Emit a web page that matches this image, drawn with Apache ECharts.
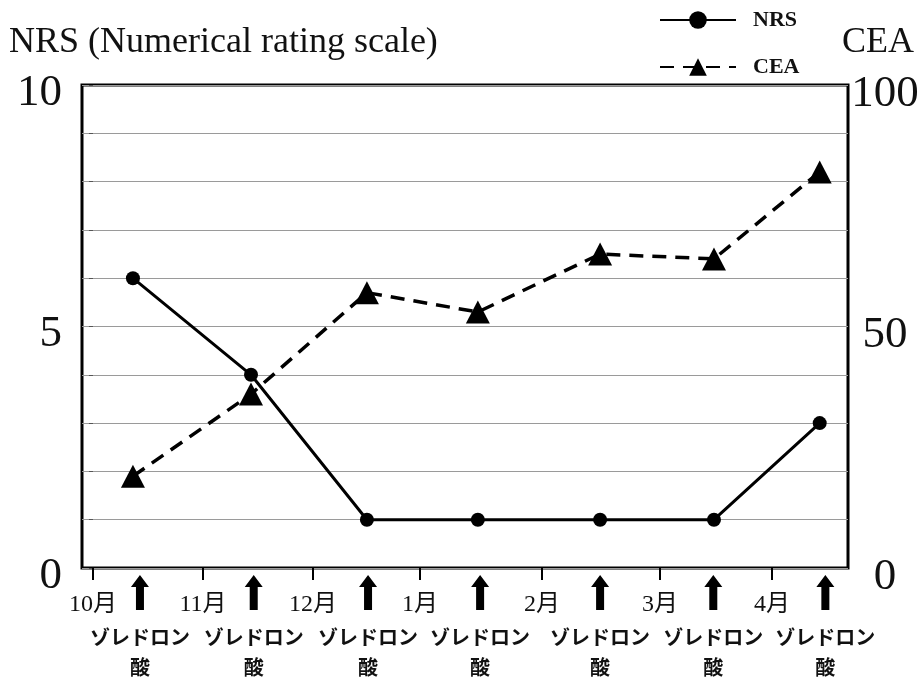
<!DOCTYPE html>
<html>
<head>
<meta charset="utf-8">
<script src="https://cdn.jsdelivr.net/npm/echarts@6/dist/echarts.min.js"></script>
<style>
  html, body { margin: 0; padding: 0; background: #fff; }
  #chart { width: 924px; height: 684px; }
</style>
</head>
<body>
<div id="chart"></div>
<script>
// month ticks on the x axis (position in months from 10月)
const monthLabels = ['10月', '11月', '12月', '1月', '2月', '3月', '4月']
const monthPos = [0, 0.972, 1.943, 2.889, 3.966, 5.009, 5.998]

// visit positions and measured values
const visitX = [0.353, 1.396, 2.42, 3.40, 4.48, 5.486, 6.42]
const nrsValues = [6, 4, 1, 1, 1, 1, 3]
const ceaValues = [19, 36, 57, 53, 65, 64, 82]

// zoledronic acid doses
const doseX = [0.415, 1.42, 2.43, 3.42, 4.48, 5.48, 6.47]
const doseLabel = 'ゾレドロン\n酸'

const serif = "'Liberation Serif', 'Times New Roman', 'Noto Sans CJK JP', serif"
const xMin = -0.097
const xMax = 6.67

const myChart = echarts.init(document.getElementById('chart'))

let option = {
  animation: false,
  backgroundColor: '#fff',
  title: [
    {
      text: 'NRS (Numerical rating scale)',
      left: 4,
      top: 20,
      textStyle: { fontFamily: serif, fontWeight: 'normal', fontSize: 36, color: '#111' },
    },
    {
      text: 'CEA',
      left: 837,
      top: 20,
      textStyle: { fontFamily: serif, fontWeight: 'normal', fontSize: 36, color: '#111' },
    },
  ],
  legend: {
    orient: 'vertical',
    left: 654,
    top: 4,
    itemWidth: 76,
    itemHeight: 22,
    itemGap: 25,
    textStyle: {
      fontFamily: serif,
      fontWeight: 'bold',
      fontSize: 22,
      color: '#111',
      padding: [0, 0, 0, 12],
    },
    data: ['NRS', 'CEA'],
  },
  grid: [
    {
      left: 82,
      right: 76,
      top: 85,
      bottom: 116,
      show: true,
      borderColor: '#000',
      borderWidth: 3,
    },
    {
      left: 82,
      right: 76,
      top: 575,
      height: 35,
      show: false,
    },
  ],
  xAxis: [
    {
      type: 'value',
      gridIndex: 0,
      min: xMin,
      max: xMax,
      axisLine: { show: false },
      splitLine: { show: false },
      axisTick: {
        show: true,
        inside: false,
        length: 12,
        customValues: monthPos,
        lineStyle: { color: '#000', width: 2 },
      },
      axisLabel: {
        customValues: monthPos,
        margin: 25,
        fontFamily: serif,
        fontSize: 24,
        color: '#111',
        formatter: function (v) {
          let i = monthPos.findIndex(p => Math.abs(p - v) < 1e-6)
          return i >= 0 ? monthLabels[i] : ''
        },
      },
    },
    {
      type: 'value',
      gridIndex: 1,
      min: xMin,
      max: xMax,
      show: false,
    },
  ],
  yAxis: [
    {
      type: 'value',
      gridIndex: 0,
      min: 0,
      max: 10,
      interval: 1,
      position: 'left',
      axisLine: { show: false },
      axisTick: { show: true, length: 4, lineStyle: { color: '#555', width: 1 } },
      splitLine: { show: true, lineStyle: { color: '#9a9a9a', width: 1.2 } },
      axisLabel: {
        margin: 20,
        fontFamily: serif,
        fontSize: 45,
        color: '#111',
        verticalAlign: 'top',
        lineHeight: 16,
        formatter: function (v) {
          return v % 5 === 0 ? String(v) : ''
        },
      },
    },
    {
      type: 'value',
      gridIndex: 0,
      min: 0,
      max: 100,
      interval: 10,
      position: 'right',
      axisLine: { show: false },
      axisTick: { show: false },
      splitLine: { show: false },
      axisLabel: {
        margin: 37,
        align: 'center',
        fontFamily: serif,
        fontSize: 45,
        color: '#111',
        verticalAlign: 'top',
        lineHeight: 18,
        formatter: function (v) {
          return v % 50 === 0 ? String(v) : ''
        },
      },
    },
    {
      type: 'value',
      gridIndex: 1,
      min: 0,
      max: 1,
      show: false,
    },
  ],
  series: [
    {
      name: 'NRS',
      type: 'line',
      xAxisIndex: 0,
      yAxisIndex: 0,
      symbol: 'circle',
      symbolSize: 14,
      lineStyle: { color: '#000', width: 3 },
      itemStyle: { color: '#000' },
      data: visitX.map((x, i) => [x, nrsValues[i]]),
      z: 3,
    },
    {
      name: 'CEA',
      type: 'line',
      xAxisIndex: 0,
      yAxisIndex: 1,
      symbol: 'triangle',
      symbolSize: [24, 23],
      lineStyle: { color: '#000', width: 3.5, type: [14, 9] },
      itemStyle: { color: '#000' },
      data: visitX.map((x, i) => [x, ceaValues[i]]),
      z: 4,
    },
    {
      name: 'dose',
      type: 'scatter',
      xAxisIndex: 1,
      yAxisIndex: 2,
      silent: true,
      symbol: 'path://M9,0 L18,12 L13,12 L13,35 L5,35 L5,12 L0,12 Z',
      symbolSize: [18, 35],
      itemStyle: { color: '#000', opacity: 1 },
      label: {
        show: true,
        position: 'bottom',
        distance: 12,
        formatter: doseLabel,
        fontFamily: "'Noto Sans CJK JP', sans-serif",
        fontWeight: 'bold',
        fontSize: 20,
        lineHeight: 30,
        color: '#111',
        align: 'center',
      },
      data: doseX.map(x => [x, 0.5]),
    },
  ],
}
option && myChart.setOption(option)
</script>
</body>
</html>
